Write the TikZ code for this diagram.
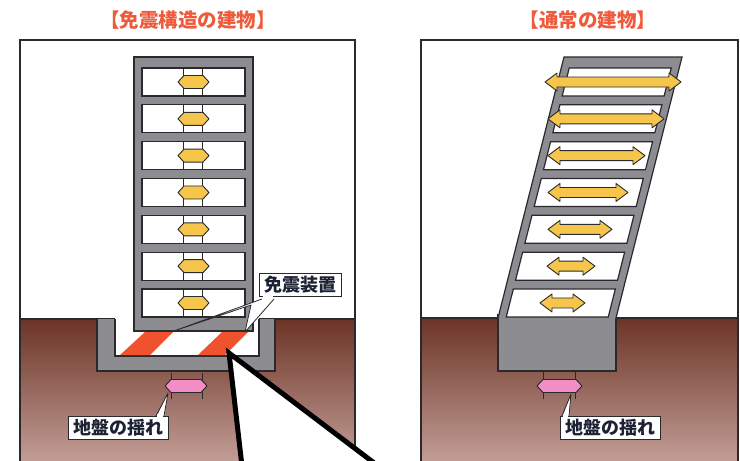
\documentclass[tikz,border=0pt]{standalone}
\usepackage{fontspec}
\newfontfamily\jpfont{Noto Sans CJK JP}
\usepackage{tikz}
\usetikzlibrary{calc}

\definecolor{ink}{HTML}{2A2A2E}
\definecolor{slab}{HTML}{8D8D91}
\definecolor{sway}{HTML}{F6C54C}
\definecolor{shake}{HTML}{F38DC6}
\definecolor{rubber}{HTML}{F0522E}
\definecolor{soiltop}{HTML}{6C3427}
\definecolor{soilbot}{HTML}{C29D95}
\definecolor{heading}{HTML}{EE5A3B}
\definecolor{labeltext}{HTML}{1C2233}

% double arrow: fill, x1, x2, y, head length, head half height, body half height
\newcommand{\dblarrow}[7]{%
  \filldraw[fill=#1, draw=ink, line width=0.9, line join=round]
    (#2,#4) -- ({#2+#5},{#4-#6}) -- ({#2+#5},{#4-#7}) -- ({#3-#5},{#4-#7})
    -- ({#3-#5},{#4-#6}) -- (#3,#4) -- ({#3-#5},{#4+#6}) -- ({#3-#5},{#4+#7})
    -- ({#2+#5},{#4+#7}) -- ({#2+#5},{#4+#6}) -- cycle;}

\begin{document}
\begin{tikzpicture}[
  x=1pt, y=-1pt,
  panel/.style={draw=ink, line width=1.4},
  slabfill/.style={fill=slab},
  edge/.style={draw=ink, line width=1.2},
  room/.style={fill=white, draw=ink, line width=1.2},
  tick/.style={draw=ink, line width=0.7},
  tag/.style={draw=ink, fill=white, line width=1, inner xsep=5pt, inner ysep=3pt,
    text=labeltext, font=\jpfont\bfseries\fontsize{18}{18}\selectfont},
  title/.style={text=heading, font=\jpfont\bfseries\fontsize{19.5}{20}\selectfont},
  pointer/.style={draw=ink, line width=0.8, line join=round},
  lens/.style={draw=black, line width=5, line join=miter},
]
\useasboundingbox (0,0) rectangle (740,461);

%% headings
\node[title] (titleL) at (188,20) {【免震構造の建物】};
\node[title] (titleR) at (588,20) {【通常の建物】};

%% ---------------- left: base-isolated building ----------------
\shade[top color=soiltop, bottom color=soilbot] (20,319) rectangle (355,461);
\draw[panel] (20,461) -- (20,40) -- (355,40) -- (355,461);
\draw[edge] (20,319) -- (115,319);
\draw[edge] (259,319) -- (355,319);

% foundation pit
\fill[slabfill] (97,319) rectangle (275,371);
\fill[white] (115,319) rectangle (259,356);
\draw[edge] (97,319) -- (97,371) -- (275,371) -- (275,319);
\draw[edge] (115,319) -- (115,356) -- (259,356) -- (259,319);

% isolator bearings
\fill[rubber] (120,355) -- (150,355) -- (173,332) -- (145,332) -- cycle;
\fill[rubber] (198,355) -- (225,355) -- (248,332) -- (222,332) -- cycle;

% frame and floors
\filldraw[slabfill, edge] (134,57) rectangle (253,331);
\foreach \i in {0,...,6} {
  \pgfmathsetmacro\ft{68+36.83*\i}
  \filldraw[room] (142,\ft) rectangle (245,{\ft+28});
  \draw[tick] (183,\ft) -- ++(0,28);
  \draw[tick] (202,\ft) -- ++(0,28);
  \dblarrow{sway}{178}{209}{\ft+14}{6}{6.5}{6.5}
}

% label for the isolators
\coordinate (padA) at (171,332);
\coordinate (padB) at (245,332);
\fill[white] (262,299) -- (padA) -- (251,305) -- (padB) -- (274,299) -- cycle;
\draw[pointer] (262,299) -- (padA) -- (251,305) -- (padB) -- (274,299);
\node[tag] (isolator) at (300.5,285) {免震装置};
\fill[white] (263,296) -- (273,296) -- (273,299) -- (263,299) -- cycle;

% ground motion
\draw[tick] (171,373) -- (171,399);
\draw[tick] (202,373) -- (202,399);
\dblarrow{shake}{165}{207}{386}{6}{6.5}{6.5}
\coordinate (shakeTipL) at (168,393);
\fill[white] (156,418) -- (shakeTipL) -- (164,418) -- cycle;
\draw[pointer] (156,416) -- (shakeTipL) -- (164,416);
\node[tag] (groundL) at (118,428) {地盤の揺れ};
\fill[white] (156.8,414) rectangle (163.2,417);

%% ---------------- right: conventional building ----------------
\shade[top color=soiltop, bottom color=soilbot] (421,318) rectangle (738,461);
\draw[panel] (421,461) -- (421,40) -- (738,40) -- (738,461);
\draw[edge] (421,318) -- (738,318);

% footing
\fill[slabfill] (498,314) rectangle (616,371);
\draw[edge] (498,314) -- (498,371) -- (616,371) -- (616,314);

% leaning frame and floors
\begin{scope}[shift={(498,318)}, xslant=0.2529]
  \fill[slabfill] (0,0) rectangle (118,-261);
  \draw[edge] (0,0) -- (0,-261) -- (118,-261) -- (118,0);
  \foreach \i in {0,...,6} {
    \pgfmathsetmacro\ft{68+36.83*\i-318}
    \filldraw[room] (8,\ft) rectangle (110,{\ft+28});
  }
\end{scope}

% storey sway grows with height
\foreach \a/\b [count=\i from 0] in {545/681, 548/664, 548/645, 548/628, 548/612, 547/595, 540/585} {
  \pgfmathsetmacro\ym{82+36.83*\i}
  \dblarrow{sway}{\a}{\b}{\ym}{12}{9}{5}
}

% ground motion
\draw[tick] (543,372) -- (543,399);
\draw[tick] (575,372) -- (575,399);
\dblarrow{shake}{537}{582}{386}{6}{6.5}{6.5}
\coordinate (shakeTipR) at (571,394);
\fill[white] (562,418) -- (shakeTipR) -- (569,418) -- cycle;
\draw[pointer] (562,416) -- (shakeTipR) -- (569,416);
\node[tag] (groundR) at (610.5,428) {地盤の揺れ};
\fill[white] (562.8,414) rectangle (568.2,417);

%% zoom wedge over the bearing
\coordinate (lensTip) at (229,353);
\fill[white] (lensTip) -- (243,475) -- (390,475) -- cycle;
\draw[lens] (243,475) -- (lensTip) -- (390,475);
\end{tikzpicture}
\end{document}
